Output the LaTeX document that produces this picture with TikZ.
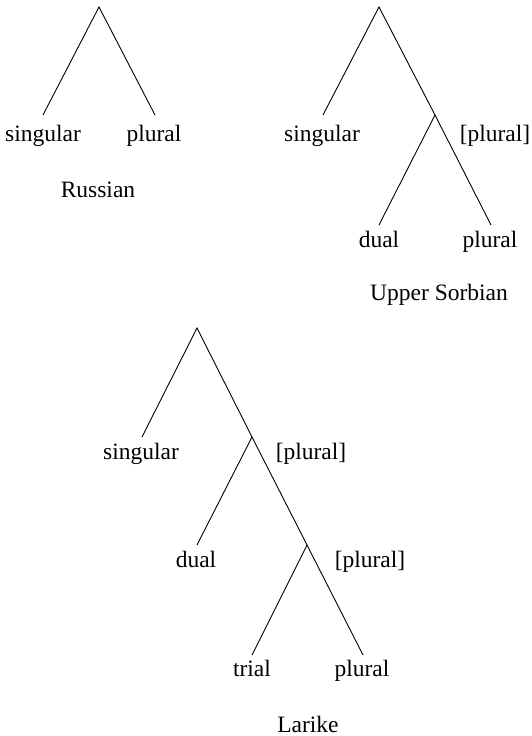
\documentclass[tikz,border=0pt]{standalone}
\usepackage{fontspec}
\setmainfont{Liberation Serif}
\begin{document}
\begin{tikzpicture}[x=1pt,y=-1pt,
  branch/.style={line width=0.9pt},
  lab/.style={anchor=base,inner sep=0pt,font=\fontsize{23.5}{28}\selectfont},
]
\useasboundingbox (0,0) rectangle (531,736);
% Russian
\coordinate (R) at (99,7);
\coordinate (Rs) at (43,115);
\coordinate (Rp) at (155,115);
\draw[branch] (Rs) -- (R) -- (Rp);
\node[lab] (RsL) at (43,141) {singular};
\node[lab] (RpL) at (154,141) {plural};
\node[lab] (RT) at (98,197) {Russian};
% Upper Sorbian
\coordinate (U) at (379,7);
\coordinate (Us) at (323,115);
\coordinate (Ub) at (435,115);
\coordinate (Ud) at (379,225);
\coordinate (Up) at (491,225);
\draw[branch] (Us) -- (U) -- (Ub) -- (Up);
\draw[branch] (Ub) -- (Ud);
\node[lab] (UsL) at (322,141) {singular};
\node[lab] (UbL) at (495,141) {[plural]};
\node[lab] (UdL) at (379,247) {dual};
\node[lab] (UpL) at (490,247) {plural};
\node[lab] (UT) at (439,300) {Upper Sorbian};
% Larike
\coordinate (L) at (197,328);
\coordinate (Ls) at (142,437);
\coordinate (Lb1) at (252,437);
\coordinate (Ld) at (197,545);
\coordinate (Lb2) at (307,545);
\coordinate (Lt) at (252,655);
\coordinate (Lp) at (363,655);
\draw[branch] (Ls) -- (L) -- (Lb1) -- (Lb2) -- (Lp);
\draw[branch] (Lb1) -- (Ld);
\draw[branch] (Lb2) -- (Lt);
\node[lab] (LsL) at (141,459) {singular};
\node[lab] (Lb1L) at (311,459) {[plural]};
\node[lab] (LdL) at (196,567) {dual};
\node[lab] (Lb2L) at (370,567) {[plural]};
\node[lab] (LtL) at (252,676) {trial};
\node[lab] (LpL) at (362,676) {plural};
\node[lab] (LT) at (308,732) {Larike};
\end{tikzpicture}
\end{document}
